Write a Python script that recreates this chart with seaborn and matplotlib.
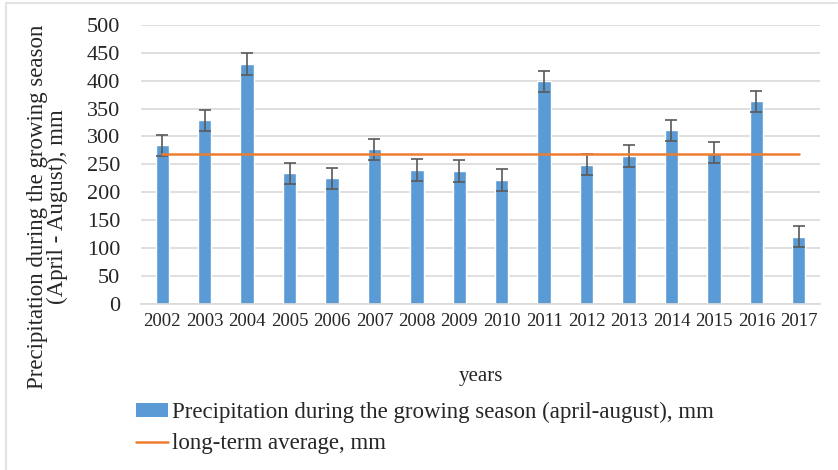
import numpy as np
import pandas as pd
import matplotlib
matplotlib.use('Agg')
import matplotlib.pyplot as plt
import seaborn as sb
from matplotlib.patches import Patch
from matplotlib.lines import Line2D

years = ['2002', '2003', '2004', '2005', '2006', '2007', '2008', '2009',
         '2010', '2011', '2012', '2013', '2014', '2015', '2016', '2017']
precip = [284, 329, 430, 234, 225, 277, 240, 238,
          222, 399, 249, 265, 311, 271, 363, 120]
err = [19, 19, 20, 19, 19, 19, 19, 19,
       19, 19, 19, 19, 19, 19, 19, 19]
long_term_avg = 268

bar_label = 'Precipitation during the growing season (april-august), mm'
line_label = 'long-term average, mm'

df = pd.DataFrame({'year': years, 'precip': precip, 'err': err})

sb.set_style('white')
plt.rcParams['font.family'] = ['Liberation Serif', 'DejaVu Serif']

W, H = 838, 470
fig = plt.figure(figsize=(W / 100, H / 100), dpi=100)
ax = fig.add_axes([141 / W, 1 - 303.7 / H, (820 - 141) / W, (303.7 - 25) / H])

sb.barplot(data=df, x='year', y='precip', color='#5B9BD5', saturation=1,
           width=0.315, ax=ax, zorder=2)
xpos = np.arange(len(years))
ax.errorbar(xpos, df['precip'], yerr=df['err'], fmt='none', ecolor='#595959',
            elinewidth=1.2, capsize=4, capthick=1.2, zorder=3)
ax.plot(xpos, [long_term_avg] * len(years), color='#ED7D31', lw=1.8, zorder=4)

ax.set_ylim(0, 500)
ax.set_xlim(-0.5, len(years) - 0.5)
ax.set_yticks(range(0, 501, 50))
ax.yaxis.grid(True, color='#D9D9D9', lw=1.2, zorder=0)
ax.set_axisbelow(True)
for s in ['top', 'right', 'left']:
    ax.spines[s].set_visible(False)
ax.spines['bottom'].set_color('#D9D9D9')
ax.spines['bottom'].set_linewidth(1.2)
ax.tick_params(axis='y', length=0, labelsize=16, pad=15)
ax.tick_params(axis='x', length=0, labelsize=13.5, pad=7)

ax.set_xlabel('years', fontsize=15)
ax.xaxis.set_label_coords(0.5, -0.228)
ax.set_ylabel('Precipitation during the growing season\n(April - August), mm',
              fontsize=16.5, linespacing=0.9)
ax.yaxis.set_label_coords(-0.108, 0.347)

handles = [Patch(facecolor='#5B9BD5', edgecolor='none'),
           Line2D([0], [0], color='#ED7D31', lw=1.8)]
fig.legend(handles, [bar_label, line_label], loc='upper left',
           bbox_to_anchor=(136 / W, 1 - 402 / H), frameon=False,
           fontsize=16.5, handlelength=1.4, handleheight=0.55,
           handletextpad=0.15, labelspacing=0.45, borderaxespad=0,
           borderpad=0)

# thin frame at top and left, as in the exported chart
fig.add_artist(Line2D([5.5 / W, 5.5 / W], [0, 1 - 3 / H], color='#E3E3E3',
                      lw=1.5, transform=fig.transFigure))
fig.add_artist(Line2D([5.5 / W, 837 / W], [1 - 3 / H, 1 - 3 / H], color='#E3E3E3',
                      lw=1.5, transform=fig.transFigure))

fig.savefig('out.png', dpi=100)
